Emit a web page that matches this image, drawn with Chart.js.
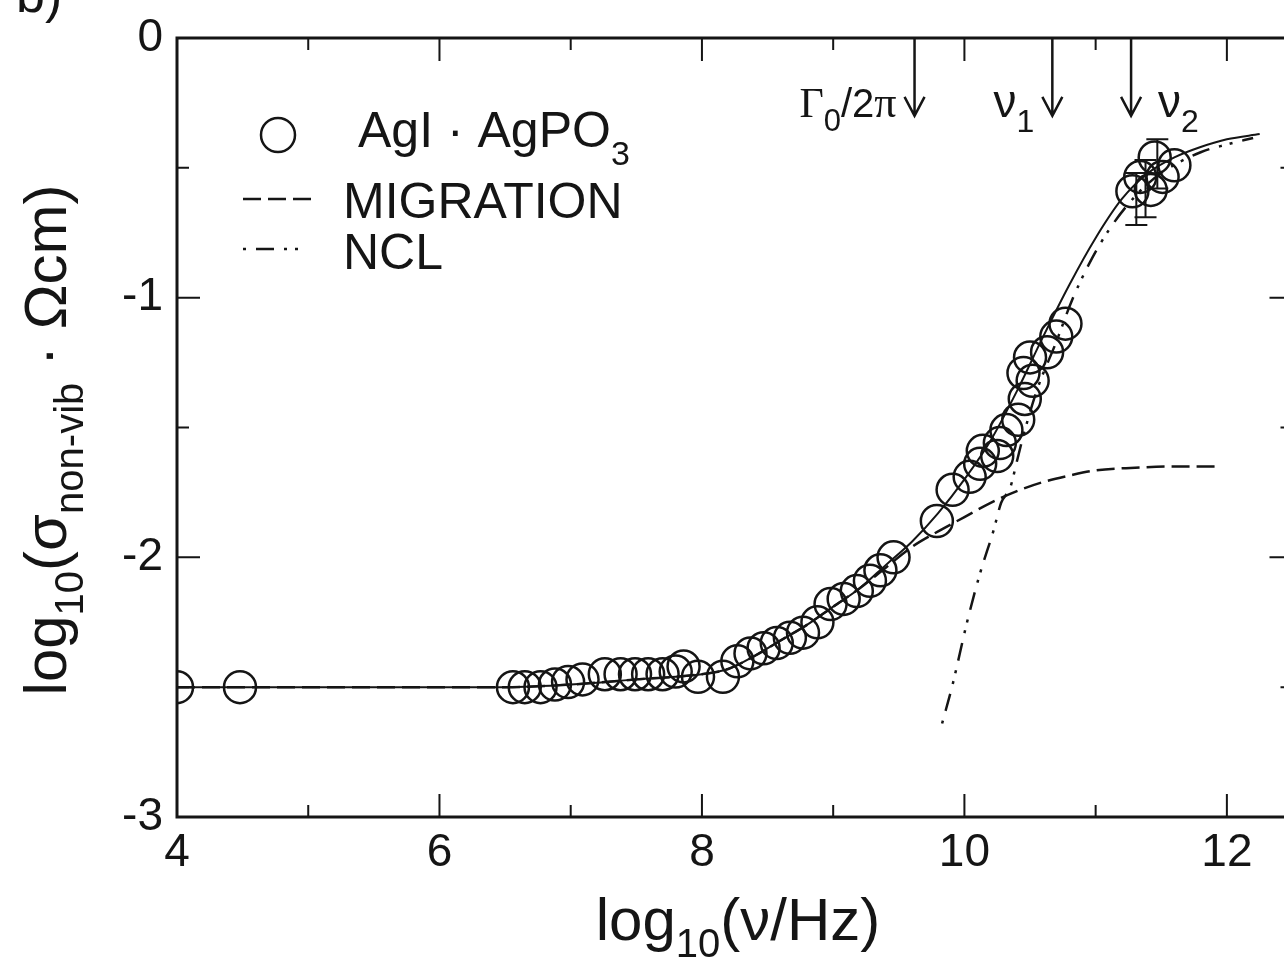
<!DOCTYPE html>
<html>
<head>
<meta charset="utf-8">
<script src="https://cdn.jsdelivr.net/npm/chart.js@4.4.1/dist/chart.umd.min.js"></script>
<style>
  html, body { margin: 0; padding: 0; background: #fff; overflow: hidden; }
  #wrap { position: absolute; left: 0; top: 0; width: 1311px; height: 968px; }
</style>
</head>
<body>
<div id="wrap"><canvas id="myChart" width="1311" height="968"></canvas></div>
<script>
// axis ticks
const xTicks = [4, 6, 8, 10, 12];
const xMinor = [5, 7, 9, 11];
const yTicks = [-3, -2, -1, 0];
const yMinor = [-2.5, -1.5, -0.5];

// measured points, AgI·AgPO3
const dataX = [4.0, 4.48, 6.56, 6.65, 6.77, 6.88, 6.98, 7.09, 7.26, 7.38, 7.49, 7.59, 7.70, 7.80, 7.86, 7.97,
  8.16, 8.27, 8.37, 8.47, 8.57, 8.67, 8.77, 8.88, 8.98, 9.08, 9.18, 9.28, 9.36, 9.46, 9.79, 9.91,
  10.04, 10.12, 10.14, 10.25, 10.27, 10.32, 10.41, 10.46, 10.45, 10.52, 10.50, 10.63, 10.70, 10.77,
  11.28, 11.34, 11.42, 11.45, 11.51, 11.60];
const dataY = [-2.50, -2.50, -2.50, -2.50, -2.50, -2.49, -2.48, -2.47, -2.45, -2.45, -2.45, -2.45, -2.45, -2.44, -2.42, -2.46,
  -2.46, -2.40, -2.37, -2.35, -2.33, -2.31, -2.29, -2.25, -2.18, -2.16, -2.13, -2.09, -2.05, -2.00, -1.86, -1.74,
  -1.69, -1.64, -1.59, -1.61, -1.56, -1.51, -1.47, -1.39, -1.29, -1.32, -1.23, -1.21, -1.15, -1.10,
  -0.59, -0.535, -0.585, -0.46, -0.535, -0.49];

// error bars
const errX = [11.31, 11.38, 11.47];
const errHi = [-0.52, -0.47, -0.39];
const errLo = [-0.72, -0.69, -0.58];

// total fit (solid)
const fitX = [4.0, 6.5, 7.0, 7.5, 8.0, 8.2, 8.4, 8.6, 8.8, 9.0, 9.2, 9.4, 9.6, 9.8, 10.0, 10.2, 10.4, 10.6, 10.8, 11.0, 11.2, 11.4, 11.6, 11.8, 12.0, 12.25];
const fitY = [-2.50, -2.50, -2.49, -2.47, -2.45, -2.43, -2.38, -2.32, -2.26, -2.19, -2.12, -2.03, -1.94, -1.83, -1.70, -1.55, -1.36, -1.15, -0.95, -0.77, -0.62, -0.52, -0.46, -0.42, -0.39, -0.37];

// MIGRATION (dashed)
const migX = [4.0, 6.5, 7.0, 7.5, 8.0, 8.2, 8.4, 8.6, 8.8, 9.0, 9.2, 9.4, 9.6, 9.8, 10.0, 10.2, 10.4, 10.6, 10.8, 11.0, 11.3, 11.6, 11.93];
const migY = [-2.50, -2.50, -2.49, -2.47, -2.45, -2.43, -2.38, -2.32, -2.26, -2.19, -2.12, -2.04, -1.96, -1.90, -1.845, -1.79, -1.745, -1.71, -1.685, -1.665, -1.655, -1.65, -1.65];

// NCL (dash-dot-dot)
const nclX = [9.83, 9.91, 10.02, 10.12, 10.22, 10.28, 10.35, 10.40, 10.45, 10.55, 10.7, 10.82, 10.95, 11.1, 11.3, 11.5, 11.8, 12.0, 12.2];
const nclY = [-2.64, -2.49, -2.25, -2.06, -1.90, -1.79, -1.73, -1.63, -1.53, -1.36, -1.17, -1.01, -0.87, -0.74, -0.61, -0.52, -0.44, -0.41, -0.385];

// arrows at top
const arrowX = [9.62, 10.67, 11.27];
const arrowTip = -0.30;

const SANS = '"Liberation Sans", Arial, Helvetica, sans-serif';
const SERIF = '"Liberation Serif", "Times New Roman", serif';
const INK = '#151515';
const DASH = [18, 7];
const DASH_DOT = [3, 10, 18, 10, 3, 8];

const pts = (xs, ys) => xs.map((x, i) => ({ x: x, y: ys[i] }));

function richWidth(ctx, parts) {
  let w = 0;
  parts.forEach(p => { ctx.font = p[1] + 'px ' + p[2]; w += ctx.measureText(p[0]).width; });
  return w;
}
function drawRich(ctx, parts, x, y) {
  let cx = x;
  parts.forEach(p => {
    ctx.font = p[1] + 'px ' + p[2];
    ctx.fillText(p[0], cx, y + p[3]);
    cx += ctx.measureText(p[0]).width;
  });
}

const decor = {
  id: 'decor',
  afterDraw(chart) {
    const ctx = chart.ctx;
    const a = chart.chartArea;
    const xs = chart.scales.x, ys = chart.scales.y;
    ctx.save();
    ctx.strokeStyle = INK;
    ctx.fillStyle = INK;
    ctx.textAlign = 'left';
    ctx.textBaseline = 'alphabetic';

    // error bars
    ctx.lineWidth = 2;
    errX.forEach((v, i) => {
      const px = xs.getPixelForValue(v);
      const t = ys.getPixelForValue(errHi[i]), b = ys.getPixelForValue(errLo[i]);
      ctx.beginPath();
      ctx.moveTo(px, t); ctx.lineTo(px, b);
      ctx.moveTo(px - 11, t); ctx.lineTo(px + 11, t);
      ctx.moveTo(px - 11, b); ctx.lineTo(px + 11, b);
      ctx.stroke();
    });

    // frame
    ctx.lineWidth = 3;
    ctx.strokeRect(a.left, a.top, a.right - a.left, a.bottom - a.top);

    // inward ticks on all sides
    ctx.lineWidth = 2;
    ctx.beginPath();
    const xt = (v, len) => {
      const px = xs.getPixelForValue(v);
      ctx.moveTo(px, a.bottom); ctx.lineTo(px, a.bottom - len);
      ctx.moveTo(px, a.top); ctx.lineTo(px, a.top + len);
    };
    const yt = (v, len) => {
      const py = ys.getPixelForValue(v);
      ctx.moveTo(a.left, py); ctx.lineTo(a.left + len, py);
      ctx.moveTo(a.right, py); ctx.lineTo(a.right - len, py);
    };
    xTicks.forEach(v => xt(v, 23));
    xMinor.forEach(v => xt(v, 12));
    yTicks.forEach(v => yt(v, 23));
    yMinor.forEach(v => yt(v, 12));
    ctx.stroke();

    // arrows
    ctx.lineWidth = 2.5;
    const tipY = ys.getPixelForValue(arrowTip);
    const arrowPx = arrowX.map(v => xs.getPixelForValue(v));
    arrowPx.forEach(px => {
      ctx.beginPath();
      ctx.moveTo(px, a.top); ctx.lineTo(px, tipY);
      ctx.moveTo(px - 10, tipY - 19); ctx.lineTo(px, tipY); ctx.lineTo(px + 10, tipY - 19);
      ctx.stroke();
    });

    // arrow labels
    const gam = [['Γ', 42, SERIF, 0], ['0', 31, SANS, 14], ['/2', 40, SANS, 0], ['π', 44, SERIF, 0]];
    drawRich(ctx, gam, arrowPx[0] - 18 - richWidth(ctx, gam), tipY + 1);
    const nu1 = [['ν', 46, SANS, 0], ['1', 32, SANS, 15]];
    drawRich(ctx, nu1, arrowPx[1] - 18 - richWidth(ctx, nu1), tipY + 1);
    const nu2 = [['ν', 46, SANS, 0], ['2', 32, SANS, 15]];
    drawRich(ctx, nu2, arrowPx[2] + 27, tipY + 1);

    // legend
    ctx.lineWidth = 2.5;
    ctx.beginPath();
    ctx.arc(278, 135, 17, 0, Math.PI * 2);
    ctx.stroke();
    drawRich(ctx, [['AgI · AgPO', 50, SANS, 0], ['3', 34, SANS, 18]], 358, 147);
    ctx.setLineDash(DASH);
    ctx.beginPath(); ctx.moveTo(243, 199); ctx.lineTo(315, 199); ctx.stroke();
    ctx.setLineDash(DASH_DOT);
    ctx.beginPath(); ctx.moveTo(243, 249); ctx.lineTo(308, 249); ctx.stroke();
    ctx.setLineDash([]);
    drawRich(ctx, [['MIGRATION', 50, SANS, 0]], 343, 218);
    drawRich(ctx, [['NCL', 50, SANS, 0]], 343, 269);

    // x title
    const xt2 = [['log', 60, SANS, 0], ['10', 40, SANS, 17], ['(ν/Hz)', 60, SANS, 0]];
    drawRich(ctx, xt2, 738 - richWidth(ctx, xt2) / 2, 940);

    // y title (rotated)
    const yt2 = [['log', 60, SANS, 0], ['10', 40, SANS, 17], ['(σ', 60, SANS, 0], ['non-vib', 40, SANS, 17],
      [' · Ωcm)', 60, SANS, 0]];
    ctx.save();
    ctx.translate(66, 440);
    ctx.rotate(-Math.PI / 2);
    drawRich(ctx, yt2, -richWidth(ctx, yt2) / 2, 0);
    ctx.restore();

    // panel letter, cut at top
    drawRich(ctx, [['b)', 52, SANS, 0]], 16, 12);
    ctx.restore();
  }
};

const ctx = document.getElementById('myChart').getContext('2d');
const chart = new Chart(ctx, {
  type: 'scatter',
  data: {
    datasets: [
      {
        label: 'AgI · AgPO3',
        data: pts(dataX, dataY),
        pointRadius: 16,
        pointBorderWidth: 2.5,
        borderColor: INK,
        backgroundColor: 'rgba(0,0,0,0)'
      },
      {
        label: 'total',
        data: pts(fitX, fitY),
        showLine: true,
        pointRadius: 0,
        borderColor: INK,
        borderWidth: 2,
        cubicInterpolationMode: 'monotone'
      },
      {
        label: 'MIGRATION',
        data: pts(migX, migY),
        showLine: true,
        pointRadius: 0,
        borderColor: INK,
        borderWidth: 2.5,
        borderDash: DASH,
        cubicInterpolationMode: 'monotone'
      },
      {
        label: 'NCL',
        data: pts(nclX, nclY),
        showLine: true,
        pointRadius: 0,
        borderColor: INK,
        borderWidth: 2.5,
        borderDash: DASH_DOT,
        cubicInterpolationMode: 'monotone'
      }
    ]
  },
  options: {
    responsive: false,
    animation: false,
    devicePixelRatio: 1,
    events: [],
    layout: { padding: { top: 38, right: 8, left: 0, bottom: 0 } },
    plugins: { legend: { display: false }, tooltip: { enabled: false } },
    scales: {
      x: {
        type: 'linear',
        min: 4,
        max: 12.5,
        grid: { display: false, drawTicks: false },
        border: { display: false },
        afterBuildTicks: s => { s.ticks = xTicks.map(v => ({ value: v })); },
        afterFit: s => { s.height = 151; s.paddingLeft = 0; s.paddingRight = 0; },
        ticks: { padding: 9, color: INK, font: { family: SANS, size: 46 }, callback: v => String(v) }
      },
      y: {
        type: 'linear',
        min: -3,
        max: 0,
        grid: { display: false, drawTicks: false },
        border: { display: false },
        afterBuildTicks: s => { s.ticks = yTicks.map(v => ({ value: v })); },
        afterFit: s => { s.width = 177; s.paddingTop = 0; s.paddingBottom = 0; },
        ticks: { padding: 14, color: INK, font: { family: SANS, size: 46 }, callback: v => String(v) }
      }
    }
  },
  plugins: [decor]
});
</script>
</body>
</html>
